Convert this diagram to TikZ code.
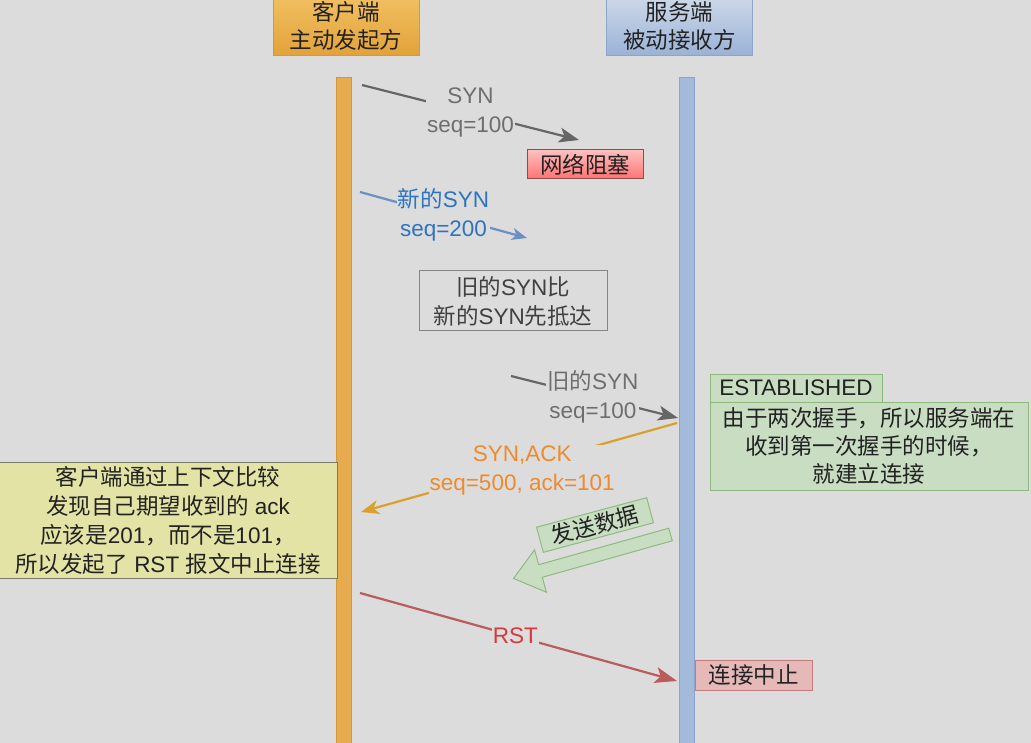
\documentclass[tikz,border=0pt]{standalone}
\usepackage{fontspec}
\setmainfont{Liberation Sans}
\newfontfamily\cjk{Noto Sans CJK SC}
\newcommand\zh[1]{{\cjk #1}}
\usetikzlibrary{arrows.meta}
\definecolor{bg}{HTML}{DCDCDC}
\definecolor{clA}{HTML}{F2C062}
\definecolor{clB}{HTML}{E2A23A}
\definecolor{clD}{HTML}{D49A3A}
\definecolor{svA}{HTML}{CFDAEA}
\definecolor{svB}{HTML}{9AB2D6}
\definecolor{svD}{HTML}{8CA4CC}
\definecolor{gline}{HTML}{666666}
\definecolor{gtext}{HTML}{6E6E6E}
\definecolor{bline}{HTML}{6C8FC4}
\definecolor{btext}{HTML}{2E73C0}
\definecolor{oline}{HTML}{D9A12B}
\definecolor{otext}{HTML}{EE8A2E}
\definecolor{rline}{HTML}{B85C5C}
\definecolor{rtext}{HTML}{D8383A}
\definecolor{grF}{HTML}{C9DDC3}
\definecolor{grD}{HTML}{8DBB7E}
\definecolor{yeF}{HTML}{E3E3A6}
\definecolor{yeD}{HTML}{7A7A6A}
\definecolor{pkF}{HTML}{E6B9B9}
\definecolor{pkD}{HTML}{C47B7B}
\definecolor{txt}{HTML}{222222}
\begin{document}
\begin{tikzpicture}[x=1pt,y=-1pt,
  every node/.style={font=\fontsize{22.5}{29}\selectfont, text=txt},
  hdr/.style={draw, minimum width=146pt, minimum height=60pt, align=center, inner sep=0pt, font=\fontsize{22.5}{28}\selectfont},
  life/.style={draw, line width=1pt, minimum width=15pt, minimum height=690pt, inner sep=0pt, anchor=north},
  lbl/.style={fill=bg, inner sep=1pt, align=center},
  msg/.style={line width=2.2pt},
  tipA/.style={-{Stealth[length=20pt,width=15pt,inset=5pt]}},
  box/.style={draw, line width=1pt, align=center, inner sep=2pt}
]
\fill[bg] (0,0) rectangle (1031,743);
\useasboundingbox (0,0) rectangle (1031,743);

% headers
\node[hdr, draw=clD, top color=clA, bottom color=clB] (client) at (346,25.5) {\zh{客户端}\\\zh{主动发起方}};
\node[hdr, draw=svD, top color=svA, bottom color=svB] (server) at (679.5,25.5) {\zh{服务端}\\\zh{被动接收方}};

% lifelines
\node[life, draw=clD, fill=clB!90!white] (cl) at (344,77) {};
\node[life, draw=svD, fill=svB!90!white] (sv) at (686.5,77) {};

% 1. SYN blocked
\coordinate (s1) at (362,85);
\coordinate (e1) at (579,140);
\draw[msg, gline, tipA] (s1) -- node[pos=.5, lbl, text=gtext] {SYN\\seq=100} (e1);
\node[box, draw=rline!80!black, top color=red!25!white, bottom color=red!55!white, minimum width=116pt, minimum height=29pt, inner sep=0pt] (block) at (585,164.5) {\zh{网络阻塞}};

% 2. new SYN
\coordinate (s2) at (360,192);
\coordinate (e2) at (527,238);
\draw[msg, bline, -{Stealth[length=15pt,width=12pt,inset=4pt]}] (s2) -- node[pos=.5, lbl, text=btext] {\zh{新的}SYN\\seq=200} (e2);

% note
\node[box, draw=gline!80!white, minimum width=188pt, minimum height=60pt, text=black!75] (note) at (513,301) {\zh{旧的}SYN\zh{比}\\\zh{新的}SYN\zh{先抵达}};

% 3. old SYN arrives
\coordinate (s3) at (511,376);
\coordinate (e3) at (678,418);
\draw[msg, gline, tipA] (s3) -- node[pos=.49, lbl, text=gtext] {\zh{旧的}SYN\\seq=100} (e3);

% established
\node[box, draw=grD, fill=grF, minimum width=172pt, minimum height=28pt, inner sep=0pt] (est) at (796,388) {ESTABLISHED};
\node[box, draw=grD, fill=grF, minimum width=318pt, minimum height=88pt, inner sep=0pt, font=\fontsize{22.5}{28}\selectfont] (estnote) at (869,446) {\zh{由于两次握手，所以服务端在}\\\zh{收到第一次握手的时候，}\\\zh{就建立连接}};

% 4. SYN,ACK
\coordinate (s4) at (677,423);
\coordinate (e4) at (361,512);
\draw[msg, oline, -{Stealth[length=18pt,width=14pt,inset=5pt]}] (s4) -- node[pos=.49, lbl, text=otext, yshift=-4pt] {SYN,ACK\\seq=500, ack=101} (e4);

% client note
\node[box, draw=yeD, fill=yeF, minimum width=338pt, minimum height=116pt, inner sep=0pt] (cnote) at (168,520) {\zh{客户端通过上下文比较}\\\zh{发现自己期望收到的} ack\\\zh{应该是}201\zh{，而不是}101\zh{，}\\\zh{所以发起了} RST \zh{报文中止连接}};

% send data block arrow
\fill[grF] (668.7,528.2) -- (672.3,540.8) -- (542.3,577.3) -- (546.4,592.2) -- (513.5,578.5) -- (534.6,549.8) -- (538.7,564.7) -- cycle;
\draw[grD, line width=1pt, line join=miter] (668.7,528.2) -- (672.3,540.8) -- (542.3,577.3) -- (546.4,592.2) -- (513.5,578.5) -- (534.6,549.8) -- (538.7,564.7) -- cycle;
\node[box, draw=grD, fill=grF, rotate=15, minimum width=114pt, minimum height=26pt, inner sep=0pt] (send) at (595,525) {\zh{发送数据}};

% 5. RST
\coordinate (s5) at (360,593);
\coordinate (e5) at (677,681);
\draw[msg, rline, -{Stealth[length=22pt,width=16pt,inset=5pt]}] (s5) -- node[pos=.49, lbl, text=rtext] {RST} (e5);
\node[box, draw=pkD, fill=pkF, minimum width=117pt, minimum height=30pt, inner sep=0pt] (abort) at (753.5,675) {\zh{连接中止}};
\end{tikzpicture}
\end{document}
